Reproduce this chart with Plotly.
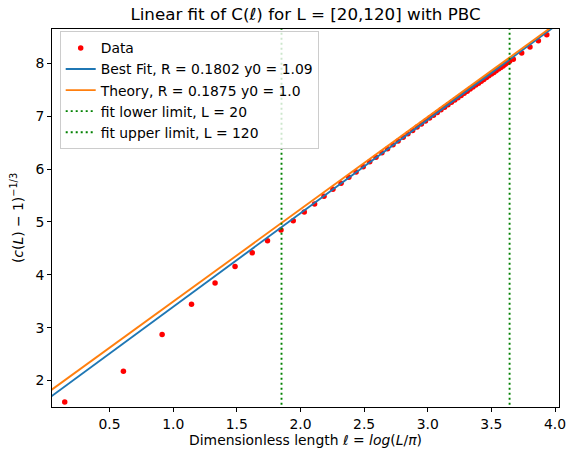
import numpy as np
import plotly.graph_objects as go

# ---- data ----
ell_data = [0.148, 0.609, 0.913, 1.144, 1.329, 1.486, 1.621, 1.741, 1.847, 1.943,
            2.030, 2.111, 2.185, 2.255, 2.319, 2.380, 2.437,
            2.493, 2.544, 2.593, 2.640, 2.684, 2.727, 2.767, 2.807, 2.844, 2.881,
            2.916, 2.950, 2.982, 3.014, 3.045, 3.075, 3.104, 3.132, 3.159, 3.186,
            3.212, 3.237, 3.262, 3.286, 3.310, 3.333, 3.355, 3.377, 3.399, 3.420,
            3.440, 3.461, 3.480, 3.500, 3.519, 3.537, 3.556, 3.574, 3.592, 3.609,
            3.626, 3.643,
            3.672, 3.738, 3.803, 3.869, 3.935]
c_data = [1.594, 2.176, 2.872, 3.446, 3.844, 4.160, 4.418, 4.645, 4.848, 5.024,
          5.189, 5.341, 5.487, 5.620, 5.733, 5.847, 5.947,
          6.046, 6.139, 6.225, 6.308, 6.386, 6.462, 6.534, 6.603, 6.670, 6.733,
          6.795, 6.854, 6.911, 6.966, 7.019, 7.071, 7.122, 7.171, 7.218, 7.263,
          7.307, 7.351, 7.394, 7.434, 7.475, 7.515, 7.553, 7.590, 7.627, 7.663,
          7.697, 7.732, 7.765, 7.798, 7.830, 7.862, 7.893, 7.924, 7.953, 7.983,
          8.011, 8.039,
          8.080, 8.195, 8.310, 8.430, 8.543]

fit_R, fit_y0 = 0.1802, 1.09
theory_R, theory_y0 = 0.1875, 1.0
L_limits = [20, 120]

x_range = [0.048, 4.031]
y_range = [1.50, 8.651]
x_ticks = [0.5, 1.0, 1.5, 2.0, 2.5, 3.0, 3.5, 4.0]
y_ticks = [2, 3, 4, 5, 6, 7, 8]

# ---- figure ----
font_family = "DejaVu Sans, Liberation Sans, sans-serif"
FS = 13.9
xl = np.linspace(x_range[0] - 0.1, x_range[1] + 0.1, 50)

def model(x, R, y0):
    return R ** (-1.0 / 3.0) * (x + 1.0 / y0)

fig = go.Figure()
fig.add_trace(go.Scatter(x=ell_data, y=c_data, mode="markers", name="Data",
                         marker=dict(color="#ff0000", size=5.5, line=dict(width=0))))
fig.add_trace(go.Scatter(x=xl, y=model(xl, fit_R, fit_y0), mode="lines",
                         name=f"Best Fit, R = {fit_R} y0 = {fit_y0}",
                         line=dict(color="#1f77b4", width=1.9)))
fig.add_trace(go.Scatter(x=xl, y=model(xl, theory_R, theory_y0), mode="lines",
                         name=f"Theory, R = {theory_R} y0 = {theory_y0}",
                         line=dict(color="#ff7f0e", width=1.9)))
for lab, L in zip(["fit lower limit", "fit upper limit"], L_limits):
    xv = float(np.log(L / np.pi))
    fig.add_trace(go.Scatter(x=[xv, xv], y=[y_range[0] - 1, y_range[1] + 1], mode="lines",
                             name=f"{lab}, L = {L}",
                             line=dict(color="#008000", width=1.9, dash="2px,3px")))

axis_common = dict(showline=True, mirror=True, linecolor="black", linewidth=1,
                   ticks="outside", ticklen=4, tickwidth=1, tickcolor="black",
                   showgrid=False, zeroline=False, automargin=False,
                   tickfont=dict(family=font_family, size=FS, color="black"))

fig.update_layout(
    width=568, height=451,
    margin=dict(l=52, r=9, t=29, b=44, autoexpand=False),
    paper_bgcolor="white", plot_bgcolor="white",
    font=dict(family=font_family, color="black"),
    hovermode=False,
    title=dict(text="Linear fit of C(ℓ) for L = [20,120] with PBC",
               x=(52 + 559) / 2 / 568, xanchor="center", y=1 - 14 / 451, yanchor="middle",
               font=dict(size=16.7, family=font_family, color="black"),
               automargin=False),
    xaxis=dict(range=x_range, tickvals=x_ticks, tickformat=".1f",
               title=dict(text="Dimensionless length <i>ℓ</i> = <i>log</i>(<i>L</i>/<i>π</i>)",
                          font=dict(size=FS, family=font_family), standoff=2),
               **axis_common),
    yaxis=dict(range=y_range, tickvals=y_ticks,
               title=dict(text="(<i>c</i>(<i>L</i>) − 1)<sup>−1/3</sup>",
                          font=dict(size=FS, family=font_family), standoff=8),
               **axis_common),
    legend=dict(x=0.0152, y=0.9936, xanchor="left", yanchor="top",
                bgcolor="rgba(255,255,255,0.8)", bordercolor="#cccccc", borderwidth=1,
                font=dict(size=FS, family=font_family, color="black"),
                itemwidth=30),
    showlegend=True,
)

fig.write_html("out.html",
               config={"displayModeBar": False, "staticPlot": True},
               post_script="document.body.style.margin='0px';document.body.style.padding='0px';")
